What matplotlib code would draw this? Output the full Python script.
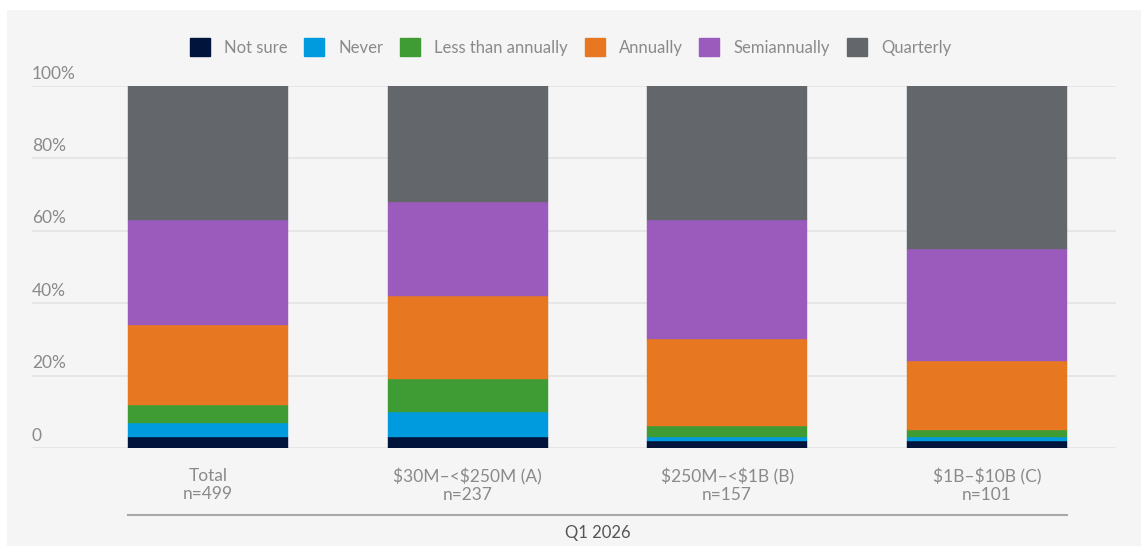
import matplotlib.pyplot as plt
from matplotlib.patches import Rectangle
from matplotlib.lines import Line2D

plt.rcParams['font.family'] = ['Lato', 'DejaVu Sans']

groups = ['Total\nn=499', r'\$30M–<\$250M (A)' + '\nn=237', r'\$250M–<\$1B (B)' + '\nn=157',
          r'\$1B–\$10B (C)' + '\nn=101']
series = ['Not sure', 'Never', 'Less than annually', 'Annually', 'Semiannually', 'Quarterly']
not_sure = [3, 3, 2, 2]
never = [4, 7, 1, 1]
less_than_annually = [5, 9, 3, 2]
annually = [22, 23, 24, 19]
semiannually = [29, 26, 33, 31]
quarterly = [37, 32, 37, 45]
yticks = [0, 20, 40, 60, 80, 100]
ytick_labels = ['0', '20%', '40%', '60%', '80%', '100%']
group_title = 'Q1 2026'

colors = ['#00143c', '#009bde', '#3f9c35', '#e87722', '#9b5bbd', '#63666a']
text_color = '#8a8a8a'
bg = '#f5f5f5'

fig = plt.figure(figsize=(11.41, 5.46), dpi=100)
fig.patch.set_facecolor('white')
# light panel behind the chart
fig.patches.append(Rectangle((7 / 1141, 0), 1, 1 - 10 / 546, transform=fig.transFigure,
                             facecolor=bg, edgecolor='none', zorder=-10))

ax = fig.add_axes([32 / 1141, 1 - 448 / 546, (1116 - 32) / 1141, (448 - 86) / 546])
ax.patch.set_alpha(0)

x = range(len(groups))
width = 0.617
bottom = [0] * len(groups)
values = [not_sure, never, less_than_annually, annually, semiannually, quarterly]
for vals, col, name in zip(values, colors, series):
    ax.bar(x, vals, width, bottom=bottom, color=col, label=name, zorder=3,
           edgecolor=col, linewidth=0.3)
    bottom = [b + v for b, v in zip(bottom, vals)]

ax.set_xlim(-0.679, 3.498)
ax.set_ylim(0, 100)
for t in yticks:
    ax.axhline(t, color='#e3e3e3', linewidth=1.2, zorder=1)
for t, lab in zip(yticks, ytick_labels):
    ax.text(0, t + 1.2, lab, transform=ax.get_yaxis_transform(), ha='left', va='bottom',
            fontsize=12.5, color=text_color)

for s in ax.spines.values():
    s.set_visible(False)
ax.set_xticks([])
ax.set_yticks([])

for i, g in enumerate(groups):
    ax.text(i, -5.6, g, ha='center', va='top', fontsize=12.5, color=text_color,
            linespacing=1.12, clip_on=False)

# bracket line under the groups and its title
ax.add_line(Line2D([-width / 2, 3 + width / 2], [-18.5, -18.5], color='#a8a8a8',
                   linewidth=1.5, clip_on=False))
ax.text(1.5, -21.3, group_title, ha='center', va='top', fontsize=12, color='#555555',
        clip_on=False)

handles = [Rectangle((0, 0), 1, 1, facecolor=c, edgecolor=c) for c in colors]
fig.legend(handles, series, loc='center', bbox_to_anchor=(0.5, 1 - 47 / 546), ncol=6,
           frameon=False, fontsize=12, handlelength=1.2, handleheight=1.2,
           handletextpad=0.85, columnspacing=1.0, labelcolor=text_color)

fig.savefig('out.png', dpi=100, facecolor=fig.get_facecolor())
